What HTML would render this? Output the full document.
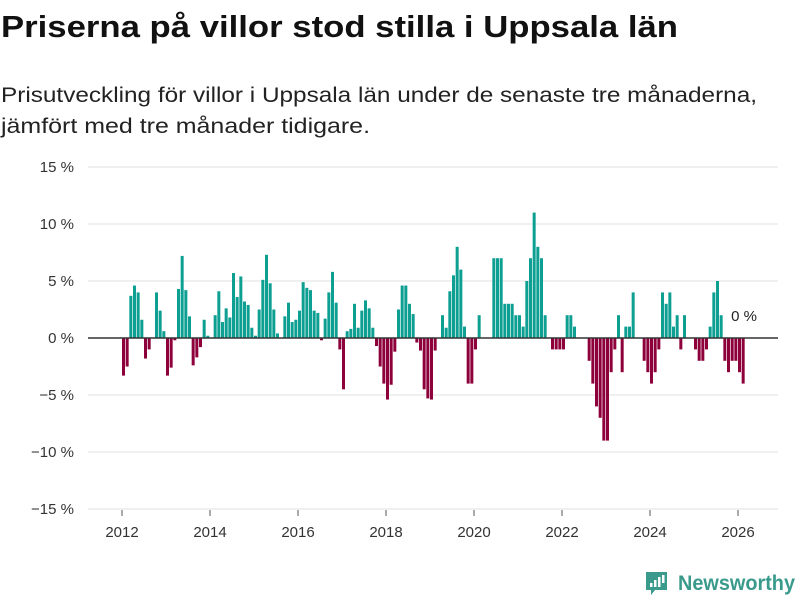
<!DOCTYPE html>
<html><head><meta charset="utf-8"><style>
html,body{margin:0;padding:0;background:#fff;width:800px;height:600px;overflow:hidden}
svg{display:block;font-family:"Liberation Sans",sans-serif}
</style></head><body>
<svg id="chart" width="800" height="600" viewBox="0 0 800 600">
<text x="1" y="37" font-size="31" font-weight="bold" fill="#111" textLength="677" lengthAdjust="spacingAndGlyphs">Priserna på villor stod stilla i Uppsala län</text>
<text x="1" y="102" font-size="21" fill="#222" textLength="756" lengthAdjust="spacingAndGlyphs">Prisutveckling för villor i Uppsala län under de senaste tre månaderna,</text>
<text x="1" y="133" font-size="21" fill="#222" textLength="369" lengthAdjust="spacingAndGlyphs">jämfört med tre månader tidigare.</text>
<g id="grid"></g><g id="bars"></g><g id="axes"></g>
<text x="744" y="321" font-size="15" fill="#222" text-anchor="middle">0 %</text>
<g>
<path d="M646 572 h21 v18 h-12 l-4 5 v-5 h-5 z" fill="#3a9a8c"/>
<rect x="650" y="583" width="2.5" height="4" fill="#fff"/><rect x="654" y="580" width="2.5" height="7" fill="#fff"/><rect x="658" y="577" width="2.5" height="10" fill="#fff"/><rect x="662" y="575" width="2.5" height="8" fill="#fff"/>
<text x="678" y="590" font-size="21" font-weight="bold" fill="#3a9a8c" textLength="117" lengthAdjust="spacingAndGlyphs">Newsworthy</text>
</g>
</svg>
<script>
const startYear = 2012;
const values = [
-3.3,-2.5,3.7,4.6,4.0,1.6,-1.8,-1.0,0,4.0,2.4,0.6,
-3.3,-2.6,-0.2,4.3,7.2,4.2,1.9,-2.4,-1.7,-0.8,1.6,0.2,
0,2.0,4.1,1.4,2.6,1.8,5.7,3.6,5.4,3.2,2.9,0.9,
0.2,2.5,5.1,7.3,4.8,2.5,0.4,0,1.9,3.1,1.4,1.6,
2.4,4.9,4.4,4.2,2.4,2.2,-0.2,1.7,4.0,5.8,3.1,-1.0,
-4.5,0.6,0.8,3.0,0.9,2.4,3.3,2.6,0.9,-0.7,-2.5,-4.0,
-5.4,-4.1,-1.2,2.5,4.6,4.6,3.0,2.1,-0.4,-1.1,-4.5,-5.3,
-5.4,-1.1,0,2.0,0.9,4.1,5.5,8.0,6.0,1.0,-4.0,-4.0,
-1.0,2.0,0,0,0,7,7,7,3,3,3,2,
2,1,5,7,11,8,7,2,0,-1,-1,-1,
-1,2,2,1,0,0,0,-2,-4,-6,-7,-9,
-9,-3,-1,2,-3,1,1,4,0,0,-2,-3,
-4,-3,-1,4,3,4,1,2,-1,2,0,0,
-1,-2,-2,-1,1,4,5,2,-2,-3,-2,-2,
-3,-4,0
];
const yTicks = [15,10,5,0,-5,-10,-15];
const yTickLabels = ["15 %","10 %","5 %","0 %","−5 %","−10 %","−15 %"];
const xTicks = [2012,2014,2016,2018,2020,2022,2024,2026];

const NS="http://www.w3.org/2000/svg";
function y(v){return 338 - v*11.4;}
function x(yr){return 122 + (yr-2012)*44;}
function mk(tag,attrs,parent){const e=document.createElementNS(NS,tag);for(const k in attrs)e.setAttribute(k,attrs[k]);parent.appendChild(e);return e;}
const grid=document.getElementById('grid'),bars=document.getElementById('bars'),axes=document.getElementById('axes');
yTicks.forEach((t,i)=>{
  if(t!==0){const l=mk('line',{x1:88,x2:778,y1:y(t),y2:y(t),stroke:'#e0e0e0','stroke-width':1},grid);
  
  }
  const tx=mk('text',{x:74,y:y(t)+5,'font-size':15,fill:'#333','text-anchor':'end'},axes);
  tx.textContent=yTickLabels[i];
  
  
});
xTicks.forEach(t=>{
  const tk=mk('line',{x1:x(t),x2:x(t),y1:510,y2:516,stroke:'#555','stroke-width':1},axes);
  
  
  const tx=mk('text',{x:x(t),y:537,'font-size':15,fill:'#333','text-anchor':'middle'},axes);
  tx.textContent=t;
  
  
});
values.forEach((v,i)=>{
  if(v===0)return;
  const x0=x(startYear+i/12);
  const r=mk('rect',{x:x0,width:3,y:Math.min(y(v),y(0)),height:Math.abs(y(v)-y(0)),fill:v>0?'#0e9f93':'#8e003b'},bars);
  
  
});
const z=mk('line',{x1:88,x2:778,y1:y(0),y2:y(0),stroke:'#333','stroke-width':1.5},axes);


</script>
</body></html>
